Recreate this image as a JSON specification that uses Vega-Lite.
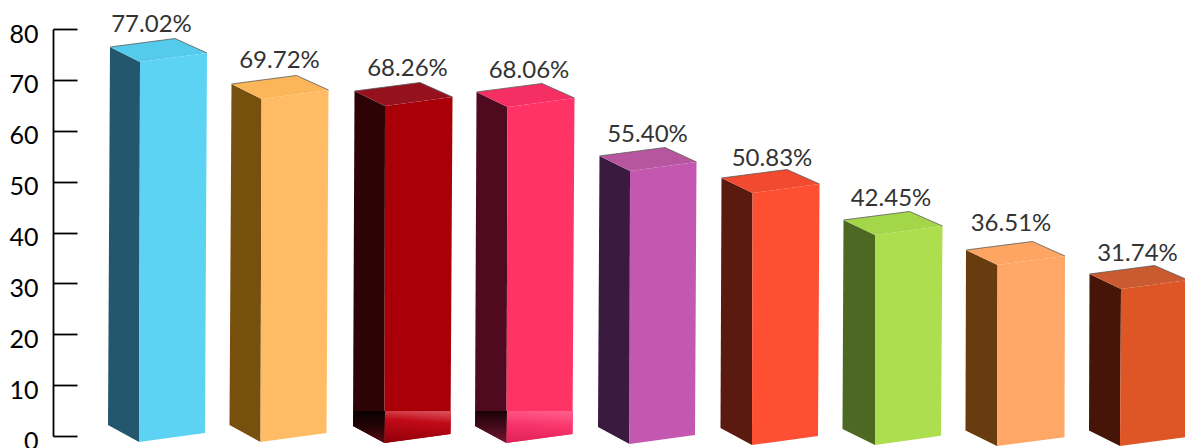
{"$schema":"https://vega.github.io/schema/vega-lite/v6.json","width":1132,"height":407,"autosize":"none","padding":{"left":53,"top":29,"right":0,"bottom":12},"background":"white","config":{"view":{"stroke":null}},
"datasets":{"faces":[
{"part":"1 side","face":"side","n":1,"px":110,"val":76.46},{"part":"1 side","face":"side","n":2,"px":140,"val":73.51},{"part":"1 side","face":"side","n":3,"px":139,"val":-1.18},{"part":"1 side","face":"side","n":4,"px":108,"val":2.16},
{"part":"1 front","face":"front","n":1,"px":140,"val":73.51},{"part":"1 front","face":"front","n":2,"px":207,"val":75.28},{"part":"1 front","face":"front","n":3,"px":205,"val":0.59},{"part":"1 front","face":"front","n":4,"px":139,"val":-1.18},
{"part":"1 top","face":"top","n":1,"px":110,"val":76.46},{"part":"1 top","face":"top","n":2,"px":175,"val":78.13},{"part":"1 top","face":"top","n":3,"px":207,"val":75.28},{"part":"1 top","face":"top","n":4,"px":140,"val":73.51},
{"part":"2 side","face":"side","n":1,"px":231.5,"val":69.19},{"part":"2 side","face":"side","n":2,"px":261.5,"val":66.24},{"part":"2 side","face":"side","n":3,"px":260.5,"val":-1.18},{"part":"2 side","face":"side","n":4,"px":229.5,"val":2.16},
{"part":"2 front","face":"front","n":1,"px":261.5,"val":66.24},{"part":"2 front","face":"front","n":2,"px":328.5,"val":68.01},{"part":"2 front","face":"front","n":3,"px":326.5,"val":0.59},{"part":"2 front","face":"front","n":4,"px":260.5,"val":-1.18},
{"part":"2 top","face":"top","n":1,"px":231.5,"val":69.19},{"part":"2 top","face":"top","n":2,"px":296.5,"val":70.86},{"part":"2 top","face":"top","n":3,"px":328.5,"val":68.01},{"part":"2 top","face":"top","n":4,"px":261.5,"val":66.24},
{"part":"3 side","face":"side","n":1,"px":354.5,"val":67.81},{"part":"3 side","face":"side","n":2,"px":385,"val":64.86},{"part":"3 side","face":"side","n":3,"px":384.5,"val":-1.38},{"part":"3 side","face":"side","n":4,"px":353,"val":1.97},
{"part":"3 front","face":"front","n":1,"px":385,"val":64.86},{"part":"3 front","face":"front","n":2,"px":452.5,"val":66.63},{"part":"3 front","face":"front","n":3,"px":450.5,"val":0.39},{"part":"3 front","face":"front","n":4,"px":384.5,"val":-1.38},
{"part":"3 top","face":"top","n":1,"px":354.5,"val":67.81},{"part":"3 top","face":"top","n":2,"px":420,"val":69.48},{"part":"3 top","face":"top","n":3,"px":452.5,"val":66.63},{"part":"3 top","face":"top","n":4,"px":385,"val":64.86},
{"part":"4 side","face":"side","n":1,"px":476.5,"val":67.62},{"part":"4 side","face":"side","n":2,"px":507.5,"val":64.67},{"part":"4 side","face":"side","n":3,"px":506.5,"val":-1.38},{"part":"4 side","face":"side","n":4,"px":475,"val":1.97},
{"part":"4 front","face":"front","n":1,"px":507.5,"val":64.67},{"part":"4 front","face":"front","n":2,"px":574.5,"val":66.44},{"part":"4 front","face":"front","n":3,"px":572.5,"val":0.39},{"part":"4 front","face":"front","n":4,"px":506.5,"val":-1.38},
{"part":"4 top","face":"top","n":1,"px":476.5,"val":67.62},{"part":"4 top","face":"top","n":2,"px":542,"val":69.29},{"part":"4 top","face":"top","n":3,"px":574.5,"val":66.44},{"part":"4 top","face":"top","n":4,"px":507.5,"val":64.67},
{"part":"5 side","face":"side","n":1,"px":599.5,"val":55.04},{"part":"5 side","face":"side","n":2,"px":630,"val":52.09},{"part":"5 side","face":"side","n":3,"px":629.5,"val":-1.57},{"part":"5 side","face":"side","n":4,"px":598,"val":1.77},
{"part":"5 front","face":"front","n":1,"px":630,"val":52.09},{"part":"5 front","face":"front","n":2,"px":696.5,"val":53.86},{"part":"5 front","face":"front","n":3,"px":695,"val":0.2},{"part":"5 front","face":"front","n":4,"px":629.5,"val":-1.57},
{"part":"5 top","face":"top","n":1,"px":599.5,"val":55.04},{"part":"5 top","face":"top","n":2,"px":665,"val":56.71},{"part":"5 top","face":"top","n":3,"px":696.5,"val":53.86},{"part":"5 top","face":"top","n":4,"px":630,"val":52.09},
{"part":"6 side","face":"side","n":1,"px":721.5,"val":50.71},{"part":"6 side","face":"side","n":2,"px":752.5,"val":47.76},{"part":"6 side","face":"side","n":3,"px":752,"val":-1.77},{"part":"6 side","face":"side","n":4,"px":720.5,"val":1.57},
{"part":"6 front","face":"front","n":1,"px":752.5,"val":47.76},{"part":"6 front","face":"front","n":2,"px":819.5,"val":49.53},{"part":"6 front","face":"front","n":3,"px":818,"val":0},{"part":"6 front","face":"front","n":4,"px":752,"val":-1.77},
{"part":"6 top","face":"top","n":1,"px":721.5,"val":50.71},{"part":"6 top","face":"top","n":2,"px":787,"val":52.38},{"part":"6 top","face":"top","n":3,"px":819.5,"val":49.53},{"part":"6 top","face":"top","n":4,"px":752.5,"val":47.76},
{"part":"7 side","face":"side","n":1,"px":843.5,"val":42.46},{"part":"7 side","face":"side","n":2,"px":875,"val":39.51},{"part":"7 side","face":"side","n":3,"px":875,"val":-1.77},{"part":"7 side","face":"side","n":4,"px":842.5,"val":1.38},
{"part":"7 front","face":"front","n":1,"px":875,"val":39.51},{"part":"7 front","face":"front","n":2,"px":942.5,"val":41.28},{"part":"7 front","face":"front","n":3,"px":941,"val":0.06},{"part":"7 front","face":"front","n":4,"px":875,"val":-1.77},
{"part":"7 top","face":"top","n":1,"px":843.5,"val":42.46},{"part":"7 top","face":"top","n":2,"px":909.5,"val":44.13},{"part":"7 top","face":"top","n":3,"px":942.5,"val":41.28},{"part":"7 top","face":"top","n":4,"px":875,"val":39.51},
{"part":"8 side","face":"side","n":1,"px":966,"val":36.56},{"part":"8 side","face":"side","n":2,"px":997.5,"val":33.61},{"part":"8 side","face":"side","n":3,"px":997,"val":-1.97},{"part":"8 side","face":"side","n":4,"px":965.5,"val":1.08},
{"part":"8 front","face":"front","n":1,"px":997.5,"val":33.61},{"part":"8 front","face":"front","n":2,"px":1065,"val":35.38},{"part":"8 front","face":"front","n":3,"px":1064.5,"val":-0.26},{"part":"8 front","face":"front","n":4,"px":997,"val":-1.97},
{"part":"8 top","face":"top","n":1,"px":966,"val":36.56},{"part":"8 top","face":"top","n":2,"px":1032.5,"val":38.23},{"part":"8 top","face":"top","n":3,"px":1065,"val":35.38},{"part":"8 top","face":"top","n":4,"px":997.5,"val":33.61},
{"part":"9 side","face":"side","n":1,"px":1089.5,"val":31.84},{"part":"9 side","face":"side","n":2,"px":1121,"val":28.89},{"part":"9 side","face":"side","n":3,"px":1120,"val":-1.97},{"part":"9 side","face":"side","n":4,"px":1089,"val":1.08},
{"part":"9 front","face":"front","n":1,"px":1121,"val":28.89},{"part":"9 front","face":"front","n":2,"px":1188,"val":30.66},{"part":"9 front","face":"front","n":3,"px":1186,"val":-0.2},{"part":"9 front","face":"front","n":4,"px":1120,"val":-1.97},
{"part":"9 top","face":"top","n":1,"px":1089.5,"val":31.84},{"part":"9 top","face":"top","n":2,"px":1154.5,"val":33.51},{"part":"9 top","face":"top","n":3,"px":1188,"val":30.66},{"part":"9 top","face":"top","n":4,"px":1121,"val":28.89}
],
"gloss":[
{"part":"3 side","n":1,"px":353.6,"val":4.91},{"part":"3 side","n":2,"px":385,"val":4.91},{"part":"3 side","n":3,"px":384.5,"val":-1.38},{"part":"3 side","n":4,"px":353,"val":1.97},
{"part":"3 front","n":1,"px":385,"val":4.91},{"part":"3 front","n":2,"px":451,"val":4.91},{"part":"3 front","n":3,"px":450.5,"val":0.39},{"part":"3 front","n":4,"px":384.5,"val":-1.38},
{"part":"4 side","n":1,"px":475.6,"val":4.91},{"part":"4 side","n":2,"px":507,"val":4.91},{"part":"4 side","n":3,"px":506.5,"val":-1.38},{"part":"4 side","n":4,"px":475,"val":1.97},
{"part":"4 front","n":1,"px":507,"val":4.91},{"part":"4 front","n":2,"px":573,"val":4.91},{"part":"4 front","n":3,"px":572.5,"val":0.39},{"part":"4 front","n":4,"px":506.5,"val":-1.38}
],
"labels":[
{"label":"77.02%","px":151.5,"val":79.41},{"label":"69.72%","px":279.5,"val":72.33},{"label":"68.26%","px":407.5,"val":70.76},{"label":"68.06%","px":529,"val":70.37},{"label":"55.40%","px":647.5,"val":57.79},{"label":"50.83%","px":772,"val":53.07},{"label":"42.45%","px":891,"val":45.21},{"label":"36.51%","px":1011,"val":40.29},{"label":"31.74%","px":1137.5,"val":34.4}
]},
"encoding":{
"x":{"field":"px","type":"quantitative","scale":{"domain":[53,1185]},"axis":null},
"y":{"field":"val","type":"quantitative","scale":{"domain":[0,80],"nice":false,"zero":false},"axis":{"title":null,"values":[0,10,20,30,40,50,60,70,80],"grid":false,"domainColor":"#000","domainWidth":1.8,"tickColor":"#000","tickWidth":1.8,"tickSize":-24,"labelColor":"#000","labelFont":"Lato","labelFontSize":25,"labelPadding":39,"labelOffset":5,"labelBound":false,"labelFlush":false,"labelOverlap":false}}
},
"layer":[
{"data":{"name":"faces"},"mark":{"type":"line","stroke":null,"strokeWidth":0,"clip":false},
"encoding":{"order":{"field":"n","type":"ordinal"},
"fill":{"field":"part","type":"nominal","legend":null,"scale":{"domain":["1 side","1 front","1 top","2 side","2 front","2 top","3 side","3 front","3 top","4 side","4 front","4 top","5 side","5 front","5 top","6 side","6 front","6 top","7 side","7 front","7 top","8 side","8 front","8 top","9 side","9 front","9 top"],"range":["#23576E","#5CD3F3","#55CBEB","#77500E","#FFBC64","#FBB659","#2E0306","#A90008","#96111E","#4F0A20","#FF3366","#F52F64","#3B1A40","#C458B1","#B8559F","#5A1A10","#FF4F33","#F24A30","#4C6822","#ACDE4E","#A4D64A","#693C10","#FFA766","#FFA564","#471508","#DE5526","#CA5A30"]}}}},
{"data":{"name":"gloss"},"transform":[{"filter":"datum.part=='3 side'"}],"mark":{"type":"line","strokeWidth":0,"fill":{"gradient":"linear","x1":0,"y1":0,"x2":0,"y2":1,"stops":[{"offset":0,"color":"#0A0002"},{"offset":0.5,"color":"#240406"},{"offset":1,"color":"#5A0A10"}]}},"encoding":{"order":{"field":"n","type":"ordinal"}}},
{"data":{"name":"gloss"},"transform":[{"filter":"datum.part=='3 front'"}],"mark":{"type":"line","strokeWidth":0,"fill":{"gradient":"linear","x1":0.75,"y1":0,"x2":0.6,"y2":1,"stops":[{"offset":0,"color":"#D8505A"},{"offset":0.35,"color":"#C20A18"},{"offset":1,"color":"#94000A"}]}},"encoding":{"order":{"field":"n","type":"ordinal"}}},
{"data":{"name":"gloss"},"transform":[{"filter":"datum.part=='4 side'"}],"mark":{"type":"line","strokeWidth":0,"fill":{"gradient":"linear","x1":0,"y1":0,"x2":0,"y2":1,"stops":[{"offset":0,"color":"#1A0208"},{"offset":1,"color":"#701430"}]}},"encoding":{"order":{"field":"n","type":"ordinal"}}},
{"data":{"name":"gloss"},"transform":[{"filter":"datum.part=='4 front'"}],"mark":{"type":"line","strokeWidth":0,"fill":{"gradient":"linear","x1":0.75,"y1":0,"x2":0.6,"y2":1,"stops":[{"offset":0,"color":"#FF5C8A"},{"offset":0.5,"color":"#F8336A"},{"offset":1,"color":"#E0245A"}]}},"encoding":{"order":{"field":"n","type":"ordinal"}}},
{"data":{"name":"faces"},"transform":[{"filter":"datum.face=='top' && datum.n<=3"}],"mark":{"type":"line","stroke":"#5A5A5A","strokeWidth":0.8},"encoding":{"order":{"field":"n","type":"ordinal"},"detail":{"field":"part"}}},
{"data":{"name":"labels"},"mark":{"type":"text","font":"Lato","fontSize":24,"color":"#333333","align":"center","baseline":"alphabetic"},"encoding":{"text":{"field":"label"}}}
]}
